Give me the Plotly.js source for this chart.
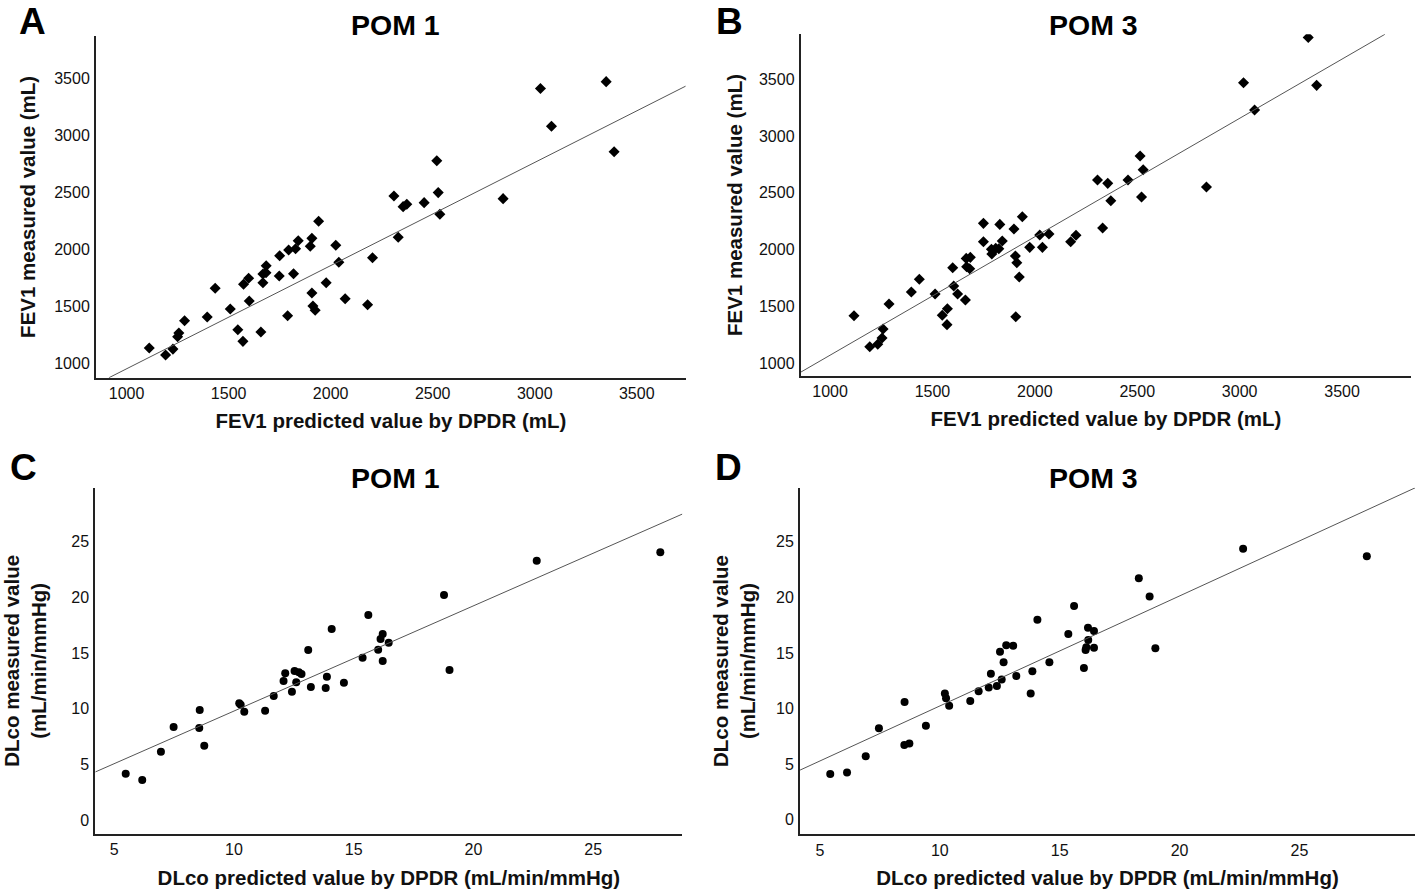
<!DOCTYPE html>
<html>
<head>
<meta charset="utf-8">
<script src="https://cdn.plot.ly/plotly-3.0.1.min.js"></script>
<style>
  html, body { margin: 0; padding: 0; background: #fff; }
  #chart { width: 1418px; height: 889px; }
</style>
</head>
<body>
<div id="chart"></div>
<script>
'use strict'

// data

// A: FEV1, POM 1
const fev1Pom1Pred = [1111, 1191, 1227, 1250, 1256, 1284, 1395, 1434, 1508, 1545, 1570, 1573, 1598, 1601, 1658,
  1668, 1668, 1683, 1684, 1748, 1750, 1789, 1794, 1818, 1828, 1841, 1900, 1908, 1908, 1913, 1924, 1941, 1978,
  2025, 2040, 2071, 2181, 2205, 2310, 2331, 2355, 2373, 2458, 2520, 2527, 2535, 2845, 3028, 3082, 3350, 3389]
const fev1Pom1Meas = [1134, 1073, 1125, 1233, 1266, 1374, 1406, 1658, 1476, 1295, 1193, 1693, 1746, 1546, 1275,
  1783, 1707, 1795, 1856, 1766, 1944, 1418, 1994, 1786, 2005, 2075, 2026, 2096, 1617, 1503, 1465, 2246, 1707,
  2035, 1886, 1567, 1514, 1926, 2468, 2105, 2374, 2395, 2409, 2777, 2497, 2307, 2444, 3409, 3079, 3470, 2856]
const fev1Pom1Fit = { slope: 0.9045, intercept: 48 }

// B: FEV1, POM 3
const fev1Pom3Pred = [1117, 1194, 1233, 1254, 1259, 1288, 1397, 1436, 1513, 1548, 1573, 1571, 1599, 1604, 1623,
  1661, 1665, 1667, 1685, 1682, 1749, 1749, 1788, 1790, 1809, 1824, 1829, 1841, 1898, 1905, 1912, 1907, 1924,
  1939, 1975, 2024, 2037, 2069, 2175, 2201, 2306, 2331, 2356, 2371, 2455, 2514, 2529, 2521, 2838, 3019, 3073,
  3335, 3376]
const fev1Pom3Meas = [1419, 1146, 1167, 1223, 1302, 1522, 1627, 1739, 1610, 1422, 1480, 1340, 1841, 1680, 1610,
  1557, 1923, 1850, 1932, 1832, 2231, 2070, 2003, 1961, 2011, 2008, 2222, 2076, 2181, 1944, 1885, 1410, 1759,
  2289, 2020, 2128, 2020, 2137, 2070, 2126, 2612, 2190, 2583, 2430, 2612, 2823, 2703, 2463, 2551, 3468, 3228,
  3867, 3445]
const fev1Pom3Fit = { slope: 1.042, intercept: 29 }

// C: DLco, POM 1
const dlcoPom1Pred = [5.48, 6.17, 6.95, 7.48, 8.57, 8.55, 8.76, 10.22, 10.28, 10.43, 11.30, 11.66, 12.07, 12.14,
  12.42, 12.53, 12.60, 12.71, 12.82, 13.10, 13.21, 13.83, 13.88, 14.08, 14.59, 15.37, 15.61, 16.02, 16.12, 16.21,
  16.21, 16.46, 18.77, 19.00, 22.64, 27.80]
const dlcoPom1Meas = [4.16, 3.59, 6.14, 8.36, 9.88, 8.27, 6.68, 10.48, 10.36, 9.73, 9.82, 11.14, 12.49, 13.18,
  11.53, 13.39, 12.37, 13.27, 13.12, 15.27, 11.95, 11.86, 12.88, 17.16, 12.34, 14.58, 18.42, 15.30, 16.26, 16.71,
  14.29, 15.93, 20.22, 13.48, 23.30, 24.05]
const dlcoPom1Fit = { slope: 0.9457, intercept: 0.33 }

// D: DLco, POM 3
const dlcoPom3Pred = [5.43, 6.13, 6.91, 7.46, 8.53, 8.52, 8.73, 9.42, 10.21, 10.26, 10.39, 11.27, 11.62, 12.04,
  12.13, 12.38, 12.51, 12.58, 12.66, 12.77, 13.06, 13.19, 13.79, 13.86, 14.07, 14.57, 15.36, 15.60, 16.01, 16.08,
  16.11, 16.19, 16.18, 16.43, 16.43, 18.30, 18.75, 18.99, 22.65, 27.81]
const dlcoPom3Meas = [4.13, 4.25, 5.72, 8.24, 10.60, 6.74, 6.86, 8.45, 11.35, 10.93, 10.27, 10.69, 11.56, 11.89,
  13.14, 12.04, 15.12, 12.61, 14.17, 15.70, 15.66, 12.94, 11.35, 13.36, 18.00, 14.17, 16.71, 19.23, 13.66, 15.27,
  15.51, 16.17, 17.28, 15.48, 16.98, 21.72, 20.07, 15.43, 24.38, 23.69]
const dlcoPom3Fit = { slope: 0.989, intercept: 0.35 }

const panelLetters = ['A', 'B', 'C', 'D']
const panelTitles = ['POM 1', 'POM 3', 'POM 1', 'POM 3']
const xTitles = [
  'FEV1 predicted value by DPDR (mL)', 'FEV1 predicted value by DPDR (mL)',
  'DLco predicted value by DPDR (mL/min/mmHg)', 'DLco predicted value by DPDR (mL/min/mmHg)'
]
const yTitles = [
  'FEV1 measured value (mL)', 'FEV1 measured value (mL)',
  'DLco measured value<br>(mL/min/mmHg)', 'DLco measured value<br>(mL/min/mmHg)'
]

///////////////////////////////////////////////////////

const FONT = 'Liberation Sans, Arial, Helvetica, sans-serif'

// subplot geometry (paper fractions) and axis ranges
const panels = [
  { pred: fev1Pom1Pred, meas: fev1Pom1Meas, fit: fev1Pom1Fit, symbol: 'diamond', size: 8.5, ystand: 13,
    xdom: [0.0677, 0.4836], ydom: [0.5751, 0.9595], xr: [850, 3740], yr: [874, 3870], dtick: 500, tick0: 1000 },
  { pred: fev1Pom3Pred, meas: fev1Pom3Meas, fit: fev1Pom3Fit, symbol: 'diamond', size: 8.5, ystand: 11,
    xdom: [0.5647, 0.9951], ydom: [0.5774, 0.9614], xr: [857, 3837], yr: [891, 3894], dtick: 500, tick0: 1000 },
  { pred: dlcoPom1Pred, meas: dlcoPom1Meas, fit: dlcoPom1Fit, symbol: 'circle', size: 8, ystand: 19,
    xdom: [0.0672, 0.4812], ydom: [0.0619, 0.4514], xr: [4.21, 28.72], yr: [-1.26, 29.86], dtick: 5, tick0: 0 },
  { pred: dlcoPom3Pred, meas: dlcoPom3Meas, fit: dlcoPom3Fit, symbol: 'circle', size: 8, ystand: 15,
    xdom: [0.5642, 0.9979], ydom: [0.0615, 0.4514], xr: [4.17, 29.82], yr: [-1.3, 29.86], dtick: 5, tick0: 0 }
]

const titlePos = [[0.279, 0.972], [0.771, 0.972], [0.279, 0.462], [0.771, 0.462]]
const letterPos = [[0.013, 1.0], [0.504, 1.0], [0.0065, 0.498], [0.5035, 0.498]]

const traces = []
const layout = {
  width: 1418,
  height: 889,
  margin: { l: 0, r: 0, t: 0, b: 0 },
  paper_bgcolor: '#fff',
  plot_bgcolor: '#fff',
  showlegend: false,
  font: { family: FONT, color: '#111' },
  annotations: []
}

panels.forEach((p, i) => {
  let n = i === 0 ? '' : String(i + 1)

  traces.push({
    type: 'scatter',
    mode: 'markers',
    x: p.pred,
    y: p.meas,
    xaxis: 'x' + n,
    yaxis: 'y' + n,
    marker: { symbol: p.symbol, size: p.size, color: '#000', line: { width: 0 } },
    hoverinfo: 'x+y'
  })

  // fit line across the plotting area
  let m = p.fit.slope, b = p.fit.intercept
  let x0 = Math.max(p.xr[0], (p.yr[0] - b) / m)
  let x1 = Math.min(p.xr[1], (p.yr[1] - b) / m)
  traces.push({
    type: 'scatter',
    mode: 'lines',
    x: [x0, x1],
    y: [m * x0 + b, m * x1 + b],
    xaxis: 'x' + n,
    yaxis: 'y' + n,
    line: { color: '#555', width: 1 },
    hoverinfo: 'skip'
  })

  let common = {
    showline: true,
    linecolor: '#222',
    linewidth: 2,
    showgrid: false,
    zeroline: false,
    ticks: '',
    tickfont: { family: FONT, size: 16, color: '#111' },
    dtick: p.dtick,
    tick0: p.tick0
  }
  let titleFont = { family: FONT, size: 20.5, weight: 'bold', color: '#111' }

  layout['xaxis' + n] = Object.assign({}, common, {
    domain: p.xdom,
    range: p.xr,
    anchor: 'y' + n,
    ticklabelstandoff: 0,
    title: { text: xTitles[i], font: titleFont, standoff: 13 }
  })
  layout['yaxis' + n] = Object.assign({}, common, {
    domain: p.ydom,
    range: p.yr,
    anchor: 'x' + n,
    ticklabelstandoff: 1,
    title: { text: yTitles[i], font: titleFont, standoff: p.ystand }
  })

  layout.annotations.push({
    text: '<b>' + panelTitles[i] + '</b>',
    xref: 'paper', yref: 'paper',
    x: titlePos[i][0], y: titlePos[i][1],
    xanchor: 'center', yanchor: 'middle',
    showarrow: false,
    font: { family: FONT, size: 28.5, color: '#000' }
  })
  layout.annotations.push({
    text: '<b>' + panelLetters[i] + '</b>',
    xref: 'paper', yref: 'paper',
    x: letterPos[i][0], y: letterPos[i][1],
    xanchor: 'left', yanchor: 'top',
    borderpad: 0,
    showarrow: false,
    font: { family: FONT, size: 37, color: '#000' }
  })
})

Plotly.newPlot('chart', traces, layout, { displayModeBar: false, staticPlot: true })
</script>
</body>
</html>
